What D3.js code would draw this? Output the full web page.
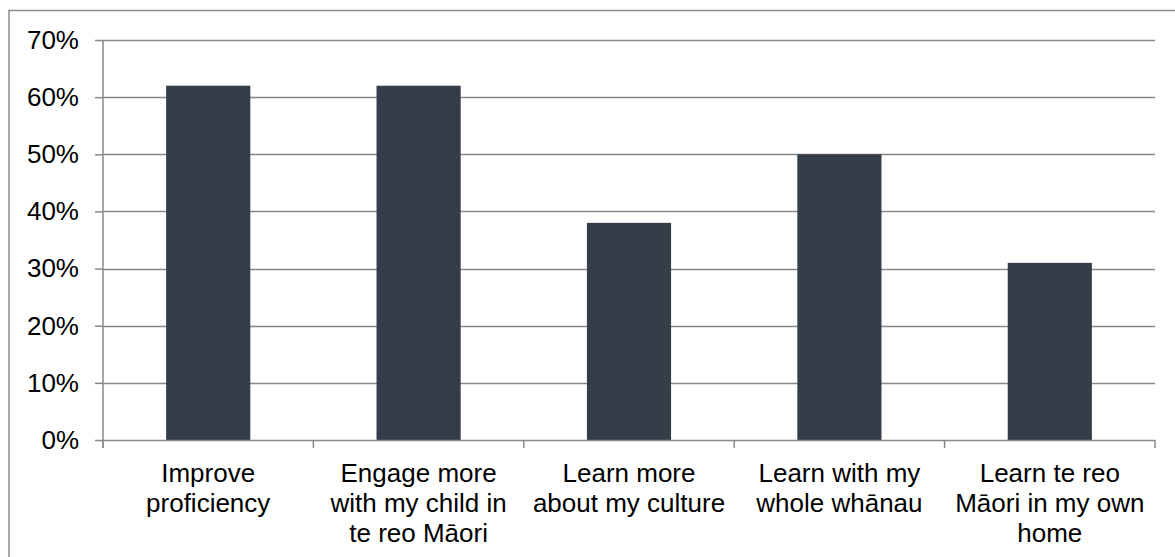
<!DOCTYPE html>
<html>
<head>
<meta charset="utf-8">
<script src="https://cdn.jsdelivr.net/npm/d3@7"></script>
<style>
html,body{margin:0;padding:0;background:#fff;}
svg{display:block;}
text{font-family:"Liberation Sans", Arial, sans-serif;}
</style>
</head>
<body>
<svg id="chart" width="1175" height="557"></svg>
<script>
const categories = [
  ["Improve", "proficiency"],
  ["Engage more", "with my child in", "te reo Māori"],
  ["Learn more", "about my culture"],
  ["Learn with my", "whole whānau"],
  ["Learn te reo", "Māori in my own", "home"]
];
const values = [0.62, 0.62, 0.38, 0.50, 0.31];
const yTicks = [0, 0.1, 0.2, 0.3, 0.4, 0.5, 0.6, 0.7];

(function () {
const svg = d3.select("#chart");
const W = 1175, H = 557;
const pLeft = 103, pRight = 1155, pTop = 40, pBottom = 440;

// outer border
svg.append("rect").attr("x", 9).attr("y", 10.5).attr("width", W + 10).attr("height", H + 10)
  .attr("fill", "#fff").attr("stroke", "#8c8c8c").attr("stroke-width", 1.5);

const x = d3.scaleBand().domain(d3.range(categories.length)).range([pLeft, pRight]).padding(0);
const y = d3.scaleLinear().domain([0, 0.7]).range([pBottom, pTop]);

// gridlines
svg.append("g").selectAll("line").data(yTicks.filter(d => d > 0)).join("line")
  .attr("x1", pLeft).attr("x2", pRight)
  .attr("y1", d => Math.round(y(d)) + 0.5).attr("y2", d => Math.round(y(d)) + 0.5)
  .attr("stroke", "#888").attr("stroke-width", 1.5);

// bars
const bw = x.bandwidth() * 0.4;
svg.append("g").selectAll("rect").data(values).join("rect")
  .attr("x", (d, i) => x(i) + (x.bandwidth() - bw) / 2)
  .attr("width", bw)
  .attr("y", d => y(d))
  .attr("height", d => y(0) - y(d))
  .attr("fill", "#353e48");

// y axis
const yAxis = d3.axisLeft(y).tickValues(yTicks).tickFormat(d3.format(".0%")).tickSize(8).tickPadding(16);
const gy = svg.append("g").attr("transform", `translate(${pLeft},0)`).call(yAxis);
gy.select(".domain").remove();
gy.selectAll(".tick line").attr("stroke", "#888").attr("stroke-width", 1.5);
gy.selectAll(".tick text").attr("font-size", 26).attr("fill", "#000")
  .attr("font-family", "'Liberation Sans', Arial, sans-serif");
svg.append("line").attr("x1", pLeft).attr("x2", pLeft).attr("y1", pTop).attr("y2", pBottom + 8)
  .attr("stroke", "#888").attr("stroke-width", 1.5);

// x axis baseline and ticks
svg.append("line").attr("x1", pLeft).attr("x2", pRight).attr("y1", pBottom + 0.5).attr("y2", pBottom + 0.5)
  .attr("stroke", "#888").attr("stroke-width", 1.5);
const bounds = d3.range(categories.length + 1).map(i => pLeft + i * x.step());
svg.append("g").selectAll("line").data(bounds).join("line")
  .attr("x1", d => d).attr("x2", d => d).attr("y1", pBottom).attr("y2", pBottom + 8)
  .attr("stroke", "#888").attr("stroke-width", 1.5);

// category labels
const lg = svg.append("g");
categories.forEach((lines, i) => {
  const cx = x(i) + x.bandwidth() / 2;
  const t = lg.append("text").attr("text-anchor", "middle")
    .attr("font-size", 26).attr("fill", "#000")
    .attr("x", cx).attr("y", 482);
  lines.forEach((s, j) => {
    t.append("tspan").attr("x", cx).attr("dy", j === 0 ? 0 : 30).text(s);
  });
});
})();
</script>
</body>
</html>
